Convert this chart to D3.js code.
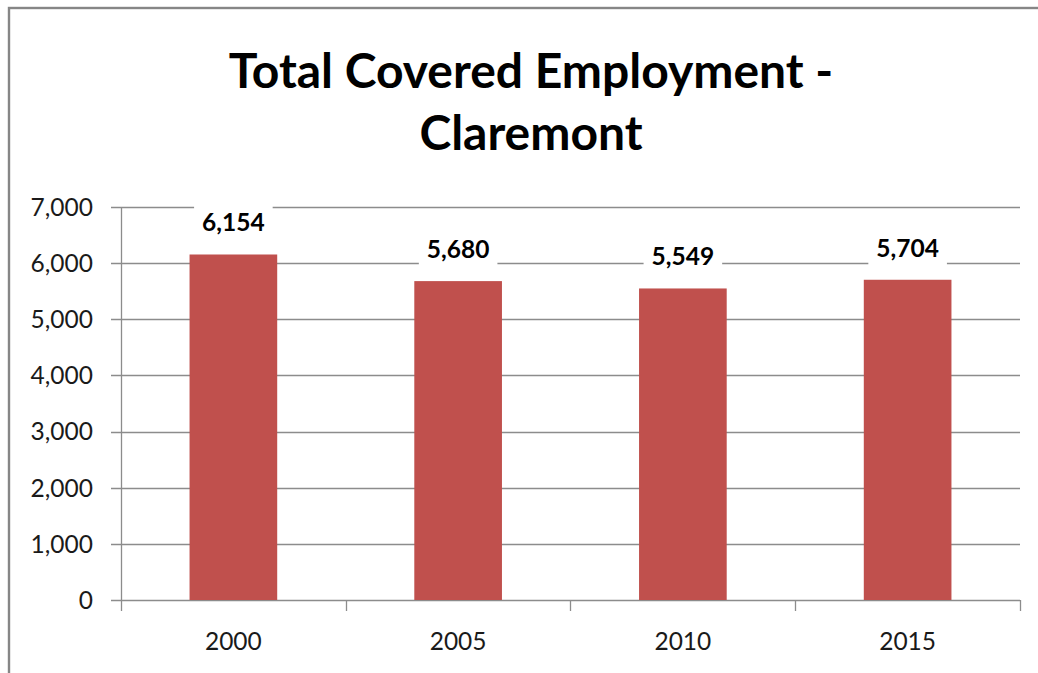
<!DOCTYPE html>
<html>
<head>
<meta charset="utf-8">
<script src="https://cdn.jsdelivr.net/npm/d3@7"></script>
<style>
  html, body { margin: 0; padding: 0; background: #fff; }
  svg { display: block; }
  text { font-family: Lato, "Open Sans", sans-serif; }
</style>
</head>
<body>
<svg id="chart" width="1038" height="673"></svg>
<script>
// Total covered employment, Claremont
const years = ["2000", "2005", "2010", "2015"];
const employment = [6154, 5680, 5549, 5704];
const yTicks = [0, 1000, 2000, 3000, 4000, 5000, 6000, 7000];
const titleLines = ["Total Covered Employment -", "Claremont"];

const svg = d3.select("#chart");
const gridColor = "#8c8c8c";
const barColor = "#C0504D";

// chart frame
svg.append("rect")
  .attr("x", 9).attr("y", 8)
  .attr("width", 1100).attr("height", 700)
  .attr("fill", "none")
  .attr("stroke", "#868686")
  .attr("stroke-width", 2.4);

const plot = { left: 121, right: 1020, top: 207, bottom: 600 };

const x = d3.scaleBand()
  .domain(years)
  .range([plot.left, plot.right])
  .paddingInner(0.61)
  .paddingOuter(0.305);

const y = d3.scaleLinear()
  .domain([0, 7000])
  .range([plot.bottom, plot.top]);

// title
svg.append("text")
  .attr("text-anchor", "middle")
  .attr("font-weight", "bold")
  .attr("font-size", 48)
  .attr("fill", "#000")
  .selectAll("tspan")
  .data(titleLines)
  .join("tspan")
  .attr("x", 531)
  .attr("y", (d, i) => 88 + i * 62)
  .text(d => d);

// horizontal gridlines
svg.append("g")
  .selectAll("line")
  .data(yTicks)
  .join("line")
  .attr("x1", plot.left - 10)
  .attr("x2", plot.right)
  .attr("y1", d => Math.round(y(d)) + 0.5)
  .attr("y2", d => Math.round(y(d)) + 0.5)
  .attr("stroke", gridColor)
  .attr("stroke-width", 1.3);

// y axis line
svg.append("line")
  .attr("x1", plot.left + 0.5).attr("x2", plot.left + 0.5)
  .attr("y1", plot.top).attr("y2", plot.bottom)
  .attr("stroke", gridColor).attr("stroke-width", 1.3);

// y tick labels
svg.append("g")
  .selectAll("text")
  .data(yTicks)
  .join("text")
  .attr("x", 93)
  .attr("y", d => y(d))
  .attr("dy", "0.36em")
  .attr("text-anchor", "end")
  .attr("font-size", 24.5)
  .attr("fill", "#1a1a1a")
  .text(d => d3.format(",")(d));

// category boundary ticks below the axis
const edges = years.map(d => x(d) + x.bandwidth() / 2 - x.step() / 2).concat([plot.right]);
svg.append("g")
  .selectAll("line")
  .data(edges)
  .join("line")
  .attr("x1", d => Math.round(d) + 0.5)
  .attr("x2", d => Math.round(d) + 0.5)
  .attr("y1", plot.bottom)
  .attr("y2", plot.bottom + 11)
  .attr("stroke", gridColor).attr("stroke-width", 1.3);

// x axis labels
svg.append("g")
  .selectAll("text")
  .data(years)
  .join("text")
  .attr("x", d => x(d) + x.bandwidth() / 2)
  .attr("y", 650)
  .attr("text-anchor", "middle")
  .attr("font-size", 24.5)
  .attr("fill", "#1a1a1a")
  .text(d => d);

// bars
svg.append("g")
  .selectAll("rect")
  .data(employment)
  .join("rect")
  .attr("x", (d, i) => x(years[i]))
  .attr("width", x.bandwidth())
  .attr("y", d => y(d))
  .attr("height", d => y(0) - y(d))
  .attr("fill", barColor);

// value labels with white backing boxes
const labels = svg.append("g")
  .selectAll("g")
  .data(employment)
  .join("g");

labels.append("rect").attr("fill", "#fff");
labels.append("text")
  .attr("x", (d, i) => x(years[i]) + x.bandwidth() / 2)
  .attr("y", d => y(d) - 23)
  .attr("text-anchor", "middle")
  .attr("font-weight", "bold")
  .attr("font-size", 24.5)
  .attr("fill", "#000")
  .text(d => d3.format(",")(d));

labels.each(function (d) {
  const g = d3.select(this);
  const bb = g.select("text").node().getBBox();
  const base = y(d) - 23;
  g.select("rect")
    .attr("x", bb.x - 8)
    .attr("width", bb.width + 16)
    .attr("y", base - 27)
    .attr("height", 36);
});
</script>
</body>
</html>
